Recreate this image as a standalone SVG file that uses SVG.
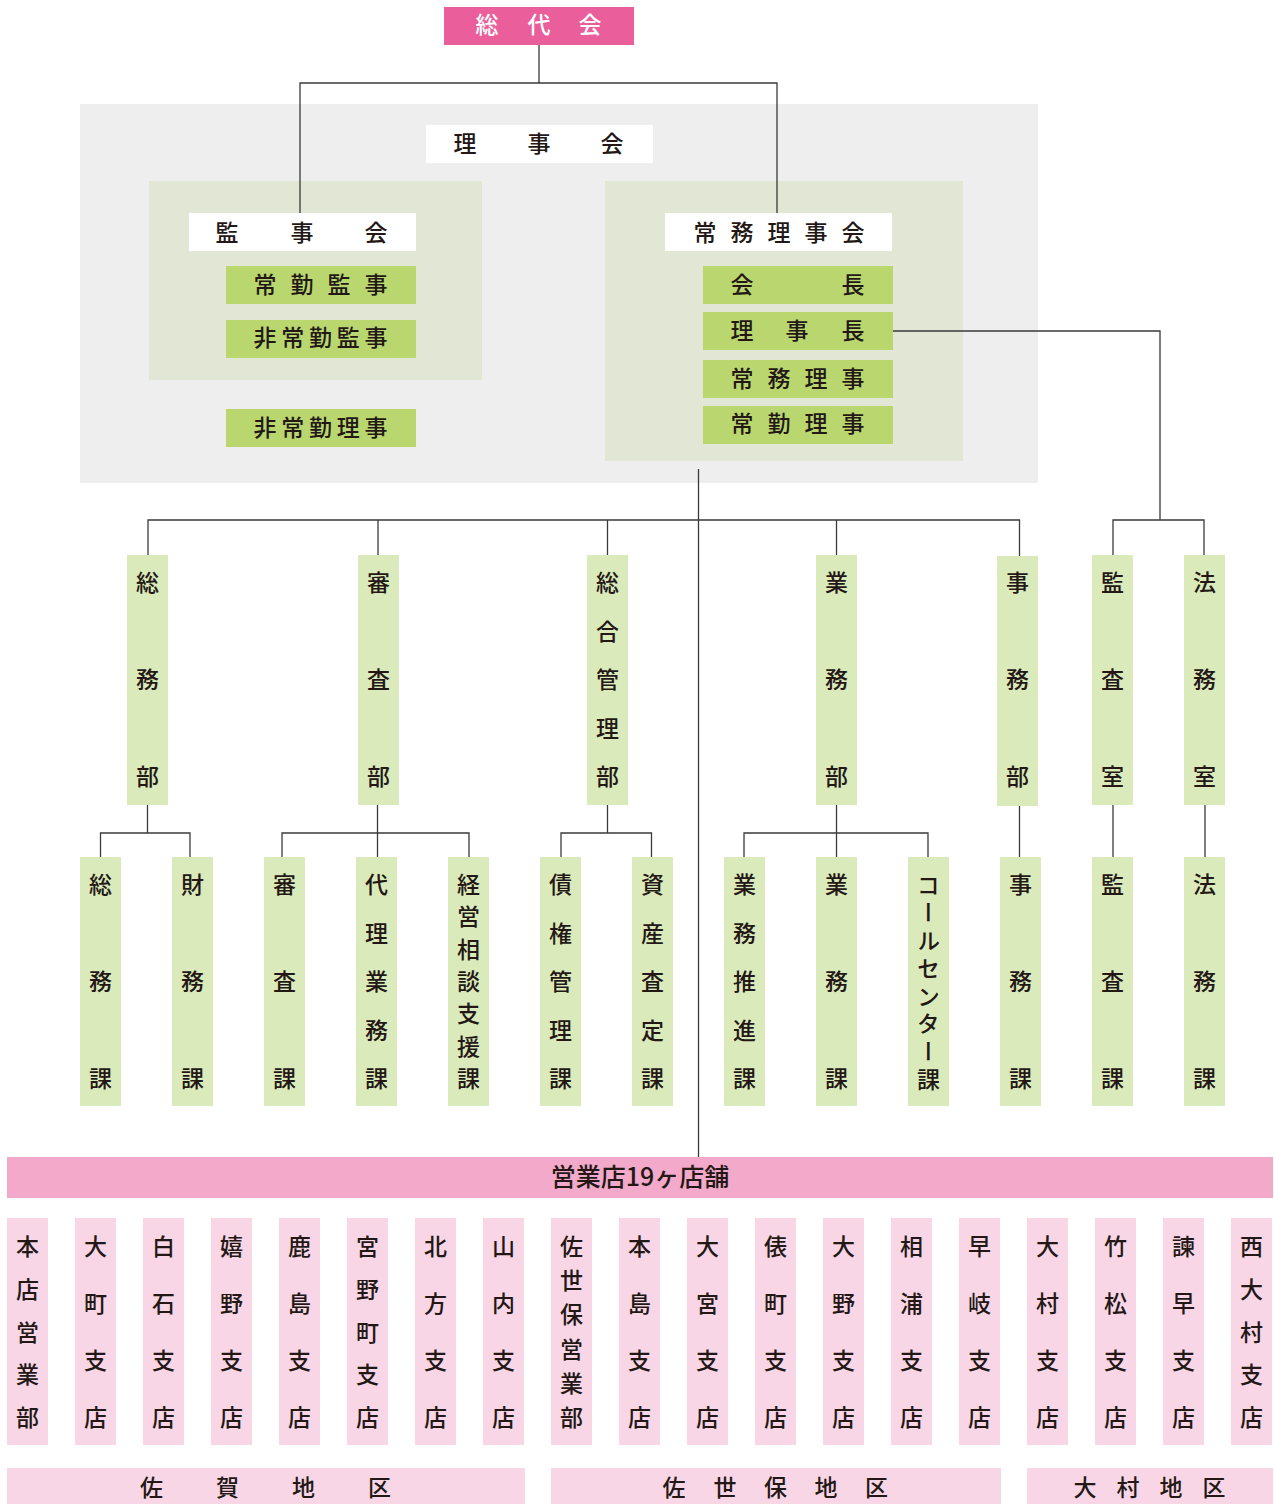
<svg xmlns="http://www.w3.org/2000/svg" width="1274" height="1504" viewBox="0 0 1274 1504">
<style>
text{font-family:"Noto Sans CJK JP","Noto Sans CJK SC",sans-serif;font-size:23px;font-weight:500;fill:#231815;text-anchor:middle;dominant-baseline:central;transform:translateY(-2px)}
.vt{writing-mode:vertical-rl;text-anchor:start;letter-spacing:4.7px}
.big{font-size:25px}
.w{fill:#ffffff}
.pk{fill:#e95e9b}
.gr{fill:#eeeeee}
.rg{fill:#e1e6d5}
.wb{fill:#ffffff}
.gb{fill:#b9d76e}
.cb{fill:#dbeabb}
.bar{fill:#f2a9ca}
.br{fill:#f8d6e6}
.ln{stroke:#3a3a3a;stroke-width:1.3;fill:none}
</style>
<rect class="gr" x="80" y="104" width="958" height="379"/>
<rect class="rg" x="149" y="181" width="333" height="199"/>
<rect class="rg" x="605" y="181" width="358" height="280"/>
<g id="connectors">
<path class="ln" d="M539 45V83M300 213V83H777V213"/>
<path class="ln" d="M698.5 469V1157"/>
<path class="ln" d="M893 331H1160V520M1113 555V520H1204V555"/>
<path class="ln" d="M148 555V520H1019.5V556M378 520V555M607.5 520V555M836.5 520V555"/>
<path class="ln" d="M147.5 805V833M100.5 857V833H190V857"/>
<path class="ln" d="M377.5 805V857M282 857V833H469V857"/>
<path class="ln" d="M607.5 805V833M561 857V833H651.5V857"/>
<path class="ln" d="M836.5 805V857M744 857V833H928V857"/>
<path class="ln" d="M1019.5 806V857M1113 805V857M1205 805V857"/>
</g>
<g id="soudaikai"><rect class="pk" x="444" y="7" width="190" height="38"/><text class="w"><tspan x="487" y="25">総</tspan><tspan x="539" y="25">代</tspan><tspan x="590" y="25">会</tspan></text></g>
<g id="rijikai"><rect class="wb" x="426" y="125" width="227" height="38"/><text><tspan x="465" y="144">理</tspan><tspan x="539" y="144">事</tspan><tspan x="612" y="144">会</tspan></text></g>
<g id="kanjikai"><rect class="wb" x="189" y="213" width="227" height="38"/><text><tspan x="227" y="233">監</tspan><tspan x="302" y="233">事</tspan><tspan x="376" y="233">会</tspan></text></g>
<g id="joukin-kanji"><rect class="gb" x="226" y="266" width="190" height="38"/><text><tspan x="265" y="285">常</tspan><tspan x="302" y="285">勤</tspan><tspan x="339" y="285">監</tspan><tspan x="376" y="285">事</tspan></text></g>
<g id="hijoukin-kanji"><rect class="gb" x="226" y="320" width="190" height="38"/><text><tspan x="265" y="338">非</tspan><tspan x="292.75" y="338">常</tspan><tspan x="320.5" y="338">勤</tspan><tspan x="348.25" y="338">監</tspan><tspan x="376" y="338">事</tspan></text></g>
<g id="hijoukin-riji"><rect class="gb" x="226" y="409" width="190" height="38"/><text><tspan x="265" y="428">非</tspan><tspan x="292.75" y="428">常</tspan><tspan x="320.5" y="428">勤</tspan><tspan x="348.25" y="428">理</tspan><tspan x="376" y="428">事</tspan></text></g>
<g id="joumu-rijikai"><rect class="wb" x="665" y="213" width="227" height="38"/><text><tspan x="705" y="233">常</tspan><tspan x="742" y="233">務</tspan><tspan x="779" y="233">理</tspan><tspan x="816" y="233">事</tspan><tspan x="853" y="233">会</tspan></text></g>
<g id="kaichou"><rect class="gb" x="703" y="266" width="190" height="38"/><text><tspan x="742" y="285">会</tspan><tspan x="853" y="285">長</tspan></text></g>
<g id="rijichou"><rect class="gb" x="703" y="312" width="190" height="38"/><text><tspan x="742" y="331">理</tspan><tspan x="797" y="331">事</tspan><tspan x="853" y="331">長</tspan></text></g>
<g id="joumu-riji"><rect class="gb" x="703" y="360" width="190" height="38"/><text><tspan x="742" y="379">常</tspan><tspan x="779" y="379">務</tspan><tspan x="816" y="379">理</tspan><tspan x="853" y="379">事</tspan></text></g>
<g id="joukin-riji"><rect class="gb" x="703" y="406" width="190" height="38"/><text><tspan x="742" y="424">常</tspan><tspan x="779" y="424">勤</tspan><tspan x="816" y="424">理</tspan><tspan x="853" y="424">事</tspan></text></g>

<g id="soumubu"><rect class="cb" x="127" y="555" width="41" height="250"/><text><tspan x="147.5" y="583">総</tspan><tspan x="147.5" y="680">務</tspan><tspan x="147.5" y="777">部</tspan></text></g>
<g id="shinsabu"><rect class="cb" x="358" y="555" width="41" height="250"/><text><tspan x="378.5" y="583">審</tspan><tspan x="378.5" y="680">査</tspan><tspan x="378.5" y="777">部</tspan></text></g>
<g id="sougoukanribu"><rect class="cb" x="587" y="555" width="41" height="250"/><text><tspan x="607.5" y="583">総</tspan><tspan x="607.5" y="631.5">合</tspan><tspan x="607.5" y="680">管</tspan><tspan x="607.5" y="728.5">理</tspan><tspan x="607.5" y="777">部</tspan></text></g>
<g id="gyoumubu"><rect class="cb" x="816" y="555" width="41" height="250"/><text><tspan x="836.5" y="583">業</tspan><tspan x="836.5" y="680">務</tspan><tspan x="836.5" y="777">部</tspan></text></g>
<g id="jimubu"><rect class="cb" x="997" y="556" width="41" height="250"/><text><tspan x="1017.5" y="583">事</tspan><tspan x="1017.5" y="680">務</tspan><tspan x="1017.5" y="777">部</tspan></text></g>
<g id="kansashitsu"><rect class="cb" x="1092" y="555" width="41" height="250"/><text><tspan x="1112.5" y="583">監</tspan><tspan x="1112.5" y="680">査</tspan><tspan x="1112.5" y="777">室</tspan></text></g>
<g id="houmushitsu"><rect class="cb" x="1184" y="555" width="41" height="250"/><text><tspan x="1204.5" y="583">法</tspan><tspan x="1204.5" y="680">務</tspan><tspan x="1204.5" y="777">室</tspan></text></g>

<g id="soumuka"><rect class="cb" x="80" y="857" width="41" height="249"/><text><tspan x="100.5" y="885">総</tspan><tspan x="100.5" y="982">務</tspan><tspan x="100.5" y="1079">課</tspan></text></g>
<g id="zaimuka"><rect class="cb" x="172" y="857" width="41" height="249"/><text><tspan x="192.5" y="885">財</tspan><tspan x="192.5" y="982">務</tspan><tspan x="192.5" y="1079">課</tspan></text></g>
<g id="shinsaka"><rect class="cb" x="264" y="857" width="41" height="249"/><text><tspan x="284.5" y="885">審</tspan><tspan x="284.5" y="982">査</tspan><tspan x="284.5" y="1079">課</tspan></text></g>
<g id="dairigyoumuka"><rect class="cb" x="356" y="857" width="41" height="249"/><text><tspan x="376.5" y="885">代</tspan><tspan x="376.5" y="933.5">理</tspan><tspan x="376.5" y="982">業</tspan><tspan x="376.5" y="1030.5">務</tspan><tspan x="376.5" y="1079">課</tspan></text></g>
<g id="keieisoudanka"><rect class="cb" x="448" y="857" width="41" height="249"/><text><tspan x="468.5" y="885">経</tspan><tspan x="468.5" y="917.3">営</tspan><tspan x="468.5" y="949.7">相</tspan><tspan x="468.5" y="982">談</tspan><tspan x="468.5" y="1014.3">支</tspan><tspan x="468.5" y="1046.7">援</tspan><tspan x="468.5" y="1079">課</tspan></text></g>
<g id="saikenkanrika"><rect class="cb" x="540" y="857" width="41" height="249"/><text><tspan x="560.5" y="885">債</tspan><tspan x="560.5" y="933.5">権</tspan><tspan x="560.5" y="982">管</tspan><tspan x="560.5" y="1030.5">理</tspan><tspan x="560.5" y="1079">課</tspan></text></g>
<g id="shisansateika"><rect class="cb" x="632" y="857" width="41" height="249"/><text><tspan x="652.5" y="885">資</tspan><tspan x="652.5" y="933.5">産</tspan><tspan x="652.5" y="982">査</tspan><tspan x="652.5" y="1030.5">定</tspan><tspan x="652.5" y="1079">課</tspan></text></g>
<g id="gyoumusuishinka"><rect class="cb" x="724" y="857" width="41" height="249"/><text><tspan x="744.5" y="885">業</tspan><tspan x="744.5" y="933.5">務</tspan><tspan x="744.5" y="982">推</tspan><tspan x="744.5" y="1030.5">進</tspan><tspan x="744.5" y="1079">課</tspan></text></g>
<g id="gyoumuka"><rect class="cb" x="816" y="857" width="41" height="249"/><text><tspan x="836.5" y="885">業</tspan><tspan x="836.5" y="982">務</tspan><tspan x="836.5" y="1079">課</tspan></text></g>
<g id="callcenterka"><rect class="cb" x="908" y="857" width="41" height="249"/><text class="vt" x="928.5" y="875.5">コールセンター課</text></g>
<g id="jimuka"><rect class="cb" x="1000" y="857" width="41" height="249"/><text><tspan x="1020.5" y="885">事</tspan><tspan x="1020.5" y="982">務</tspan><tspan x="1020.5" y="1079">課</tspan></text></g>
<g id="kansaka"><rect class="cb" x="1092" y="857" width="41" height="249"/><text><tspan x="1112.5" y="885">監</tspan><tspan x="1112.5" y="982">査</tspan><tspan x="1112.5" y="1079">課</tspan></text></g>
<g id="houmuka"><rect class="cb" x="1184" y="857" width="41" height="249"/><text><tspan x="1204.5" y="885">法</tspan><tspan x="1204.5" y="982">務</tspan><tspan x="1204.5" y="1079">課</tspan></text></g>

<g id="eigyouten"><rect class="bar" x="7" y="1157" width="1266" height="41"/><text class="big" x="640" y="1177">営業店19ヶ店舗</text></g>

<g id="b01"><rect class="br" x="7" y="1218" width="41" height="227"/><text><tspan x="27.5" y="1247">本</tspan><tspan x="27.5" y="1289.75">店</tspan><tspan x="27.5" y="1332.5">営</tspan><tspan x="27.5" y="1375.25">業</tspan><tspan x="27.5" y="1418">部</tspan></text></g>
<g id="b02"><rect class="br" x="75" y="1218" width="41" height="227"/><text><tspan x="95.5" y="1247">大</tspan><tspan x="95.5" y="1304">町</tspan><tspan x="95.5" y="1361">支</tspan><tspan x="95.5" y="1418">店</tspan></text></g>
<g id="b03"><rect class="br" x="143" y="1218" width="41" height="227"/><text><tspan x="163.5" y="1247">白</tspan><tspan x="163.5" y="1304">石</tspan><tspan x="163.5" y="1361">支</tspan><tspan x="163.5" y="1418">店</tspan></text></g>
<g id="b04"><rect class="br" x="211" y="1218" width="41" height="227"/><text><tspan x="231.5" y="1247">嬉</tspan><tspan x="231.5" y="1304">野</tspan><tspan x="231.5" y="1361">支</tspan><tspan x="231.5" y="1418">店</tspan></text></g>
<g id="b05"><rect class="br" x="279" y="1218" width="41" height="227"/><text><tspan x="299.5" y="1247">鹿</tspan><tspan x="299.5" y="1304">島</tspan><tspan x="299.5" y="1361">支</tspan><tspan x="299.5" y="1418">店</tspan></text></g>
<g id="b06"><rect class="br" x="347" y="1218" width="41" height="227"/><text><tspan x="367.5" y="1247">宮</tspan><tspan x="367.5" y="1289.75">野</tspan><tspan x="367.5" y="1332.5">町</tspan><tspan x="367.5" y="1375.25">支</tspan><tspan x="367.5" y="1418">店</tspan></text></g>
<g id="b07"><rect class="br" x="415" y="1218" width="41" height="227"/><text><tspan x="435.5" y="1247">北</tspan><tspan x="435.5" y="1304">方</tspan><tspan x="435.5" y="1361">支</tspan><tspan x="435.5" y="1418">店</tspan></text></g>
<g id="b08"><rect class="br" x="483" y="1218" width="41" height="227"/><text><tspan x="503.5" y="1247">山</tspan><tspan x="503.5" y="1304">内</tspan><tspan x="503.5" y="1361">支</tspan><tspan x="503.5" y="1418">店</tspan></text></g>
<g id="b09"><rect class="br" x="551" y="1218" width="41" height="227"/><text><tspan x="571.5" y="1247">佐</tspan><tspan x="571.5" y="1281.2">世</tspan><tspan x="571.5" y="1315.4">保</tspan><tspan x="571.5" y="1349.6">営</tspan><tspan x="571.5" y="1383.8">業</tspan><tspan x="571.5" y="1418">部</tspan></text></g>
<g id="b10"><rect class="br" x="619" y="1218" width="41" height="227"/><text><tspan x="639.5" y="1247">本</tspan><tspan x="639.5" y="1304">島</tspan><tspan x="639.5" y="1361">支</tspan><tspan x="639.5" y="1418">店</tspan></text></g>
<g id="b11"><rect class="br" x="687" y="1218" width="41" height="227"/><text><tspan x="707.5" y="1247">大</tspan><tspan x="707.5" y="1304">宮</tspan><tspan x="707.5" y="1361">支</tspan><tspan x="707.5" y="1418">店</tspan></text></g>
<g id="b12"><rect class="br" x="755" y="1218" width="41" height="227"/><text><tspan x="775.5" y="1247">俵</tspan><tspan x="775.5" y="1304">町</tspan><tspan x="775.5" y="1361">支</tspan><tspan x="775.5" y="1418">店</tspan></text></g>
<g id="b13"><rect class="br" x="823" y="1218" width="41" height="227"/><text><tspan x="843.5" y="1247">大</tspan><tspan x="843.5" y="1304">野</tspan><tspan x="843.5" y="1361">支</tspan><tspan x="843.5" y="1418">店</tspan></text></g>
<g id="b14"><rect class="br" x="891" y="1218" width="41" height="227"/><text><tspan x="911.5" y="1247">相</tspan><tspan x="911.5" y="1304">浦</tspan><tspan x="911.5" y="1361">支</tspan><tspan x="911.5" y="1418">店</tspan></text></g>
<g id="b15"><rect class="br" x="959" y="1218" width="41" height="227"/><text><tspan x="979.5" y="1247">早</tspan><tspan x="979.5" y="1304">岐</tspan><tspan x="979.5" y="1361">支</tspan><tspan x="979.5" y="1418">店</tspan></text></g>
<g id="b16"><rect class="br" x="1027" y="1218" width="41" height="227"/><text><tspan x="1047.5" y="1247">大</tspan><tspan x="1047.5" y="1304">村</tspan><tspan x="1047.5" y="1361">支</tspan><tspan x="1047.5" y="1418">店</tspan></text></g>
<g id="b17"><rect class="br" x="1095" y="1218" width="41" height="227"/><text><tspan x="1115.5" y="1247">竹</tspan><tspan x="1115.5" y="1304">松</tspan><tspan x="1115.5" y="1361">支</tspan><tspan x="1115.5" y="1418">店</tspan></text></g>
<g id="b18"><rect class="br" x="1163" y="1218" width="41" height="227"/><text><tspan x="1183.5" y="1247">諫</tspan><tspan x="1183.5" y="1304">早</tspan><tspan x="1183.5" y="1361">支</tspan><tspan x="1183.5" y="1418">店</tspan></text></g>
<g id="b19"><rect class="br" x="1231" y="1218" width="41" height="227"/><text><tspan x="1251.5" y="1247">西</tspan><tspan x="1251.5" y="1289.75">大</tspan><tspan x="1251.5" y="1332.5">村</tspan><tspan x="1251.5" y="1375.25">支</tspan><tspan x="1251.5" y="1418">店</tspan></text></g>

<g id="saga"><rect class="br" x="7" y="1468" width="518" height="36"/><text><tspan x="151.5" y="1488">佐</tspan><tspan x="227.5" y="1488">賀</tspan><tspan x="303.5" y="1488">地</tspan><tspan x="379.5" y="1488">区</tspan></text></g>
<g id="sasebo"><rect class="br" x="551" y="1468" width="450" height="36"/><text><tspan x="674" y="1488">佐</tspan><tspan x="725" y="1488">世</tspan><tspan x="775.5" y="1488">保</tspan><tspan x="826" y="1488">地</tspan><tspan x="876.5" y="1488">区</tspan></text></g>
<g id="oomura"><rect class="br" x="1027" y="1468" width="246" height="36"/><text><tspan x="1085" y="1488">大</tspan><tspan x="1128" y="1488">村</tspan><tspan x="1171" y="1488">地</tspan><tspan x="1214" y="1488">区</tspan></text></g>
</svg>
